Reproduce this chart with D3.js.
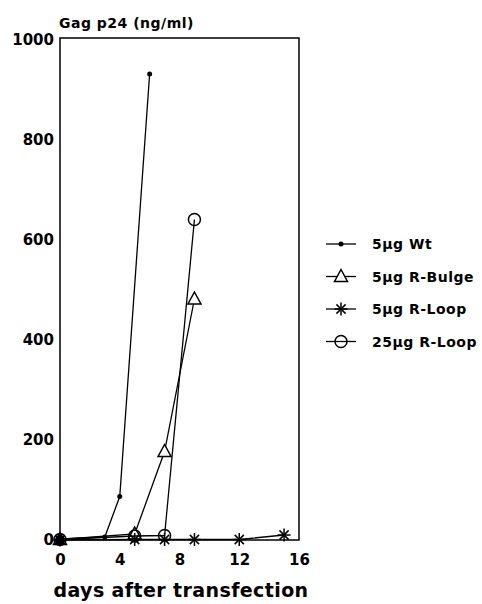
<!DOCTYPE html>
<html>
<head>
<meta charset="utf-8">
<script src="https://cdn.jsdelivr.net/npm/d3@7"></script>
<style>
body { margin: 0; background: #fff; }
text { font-family: "DejaVu Sans", sans-serif; font-weight: bold; fill: #000; }
</style>
</head>
<body>
<svg width="482" height="604"></svg>
<script>
// data
var wtDays = [0, 3, 4, 6];
var wtValues = [2, 6, 87, 932];
var bulgeDays = [0, 5, 7, 9];
var bulgeValues = [1, 12, 177, 482];
var loop5Days = [0, 5, 7, 9, 12, 15];
var loop5Values = [0, 1, 1, 1, 1, 10];
var loop25Days = [0, 5, 7, 9];
var loop25Values = [1, 8, 9, 641];
var legendLabels = ["5\u00b5g Wt", "5\u00b5g R-Bulge", "5\u00b5g R-Loop", "25\u00b5g R-Loop"];
var xTicks = [0, 4, 8, 12, 16];
var yTicks = [0, 200, 400, 600, 800, 1000];

var svg = d3.select("svg");

var x = d3.scaleLinear().domain([0, 16]).range([60, 299]);
var y = d3.scaleLinear().domain([0, 1000]).range([540, 40]);

// plot frame
svg.append("rect")
    .attr("x", 60).attr("y", 38)
    .attr("width", 239).attr("height", 502)
    .attr("fill", "none").attr("stroke", "#000").attr("stroke-width", 1.5);

// axes (labels only, no tick marks)
var xAxis = svg.append("g")
    .attr("transform", "translate(0,554)")
    .call(d3.axisBottom(x).tickValues(xTicks).tickFormat(d3.format("d")).tickSize(0).tickPadding(0));
xAxis.select(".domain").remove();
xAxis.selectAll("text")
    .attr("dy", "0.71em")
    .style("font-size", "15px");

var yAxis = svg.append("g")
    .attr("transform", "translate(54,0)")
    .call(d3.axisLeft(y).tickValues(yTicks).tickFormat(d3.format("d")).tickSize(0).tickPadding(0));
yAxis.select(".domain").remove();
yAxis.selectAll("text")
    .style("font-size", "15px");

svg.append("text")
    .attr("x", 59).attr("y", 28)
    .style("font-size", "14px")
    .style("letter-spacing", "0.5px")
    .text("Gag p24 (ng/ml)");

svg.append("text")
    .attr("x", 181).attr("y", 597)
    .attr("text-anchor", "middle")
    .style("font-size", "19px")
    .style("letter-spacing", "0.4px")
    .text("days after transfection");

// marker drawing
function marker(g, type) {
    if (type == "dot") {
        g.append("circle").attr("r", 2.5).attr("fill", "#000");
    } else if (type == "tri") {
        g.append("path").attr("d", "M0,-7L6.5,5L-6.5,5Z")
            .attr("fill", "#fff").attr("stroke", "#000").attr("stroke-width", 1.5);
    } else if (type == "star") {
        [0, 45, 90, 135].forEach(function(a) {
            g.append("line").attr("x1", -6.5).attr("x2", 6.5)
                .attr("transform", "rotate(" + a + ")")
                .attr("stroke", "#000").attr("stroke-width", 1.5);
        });
    } else {
        g.append("circle").attr("r", 6)
            .attr("fill", "none").attr("stroke", "#000").attr("stroke-width", 1.5);
    }
}

var series = [
    {days: wtDays, values: wtValues, type: "dot"},
    {days: bulgeDays, values: bulgeValues, type: "tri"},
    {days: loop5Days, values: loop5Values, type: "star"},
    {days: loop25Days, values: loop25Values, type: "circ"}
];

var line = d3.line()
    .x(function(d) { return x(d[0]); })
    .y(function(d) { return y(d[1]); });

series.forEach(function(s) {
    var pts = d3.zip(s.days, s.values);
    svg.append("path")
        .attr("d", line(pts))
        .attr("fill", "none").attr("stroke", "#000").attr("stroke-width", 1.3);
    svg.selectAll(null)
        .data(pts)
        .enter()
        .append("g")
        .attr("transform", function(d) { return "translate(" + x(d[0]) + "," + y(d[1]) + ")"; })
        .each(function() { marker(d3.select(this), s.type); });
});

// big blob at the origin where all series start
svg.append("circle")
    .attr("cx", x(0)).attr("cy", y(0)).attr("r", 5).attr("fill", "#000");

// legend
var legend = svg.selectAll(".legend")
    .data(series)
    .enter()
    .append("g")
    .attr("class", "legend")
    .attr("transform", function(d, i) { return "translate(341," + (244 + i * 32.5) + ")"; });

legend.append("line")
    .attr("x1", -15).attr("x2", 15)
    .attr("stroke", "#000").attr("stroke-width", 1.3);
legend.each(function(d) { marker(d3.select(this), d.type); });
legend.append("text")
    .attr("x", 31).attr("dy", "0.36em")
    .style("font-size", "14px")
    .style("letter-spacing", "0.5px")
    .text(function(d, i) { return legendLabels[i]; });
</script>
</body>
</html>
